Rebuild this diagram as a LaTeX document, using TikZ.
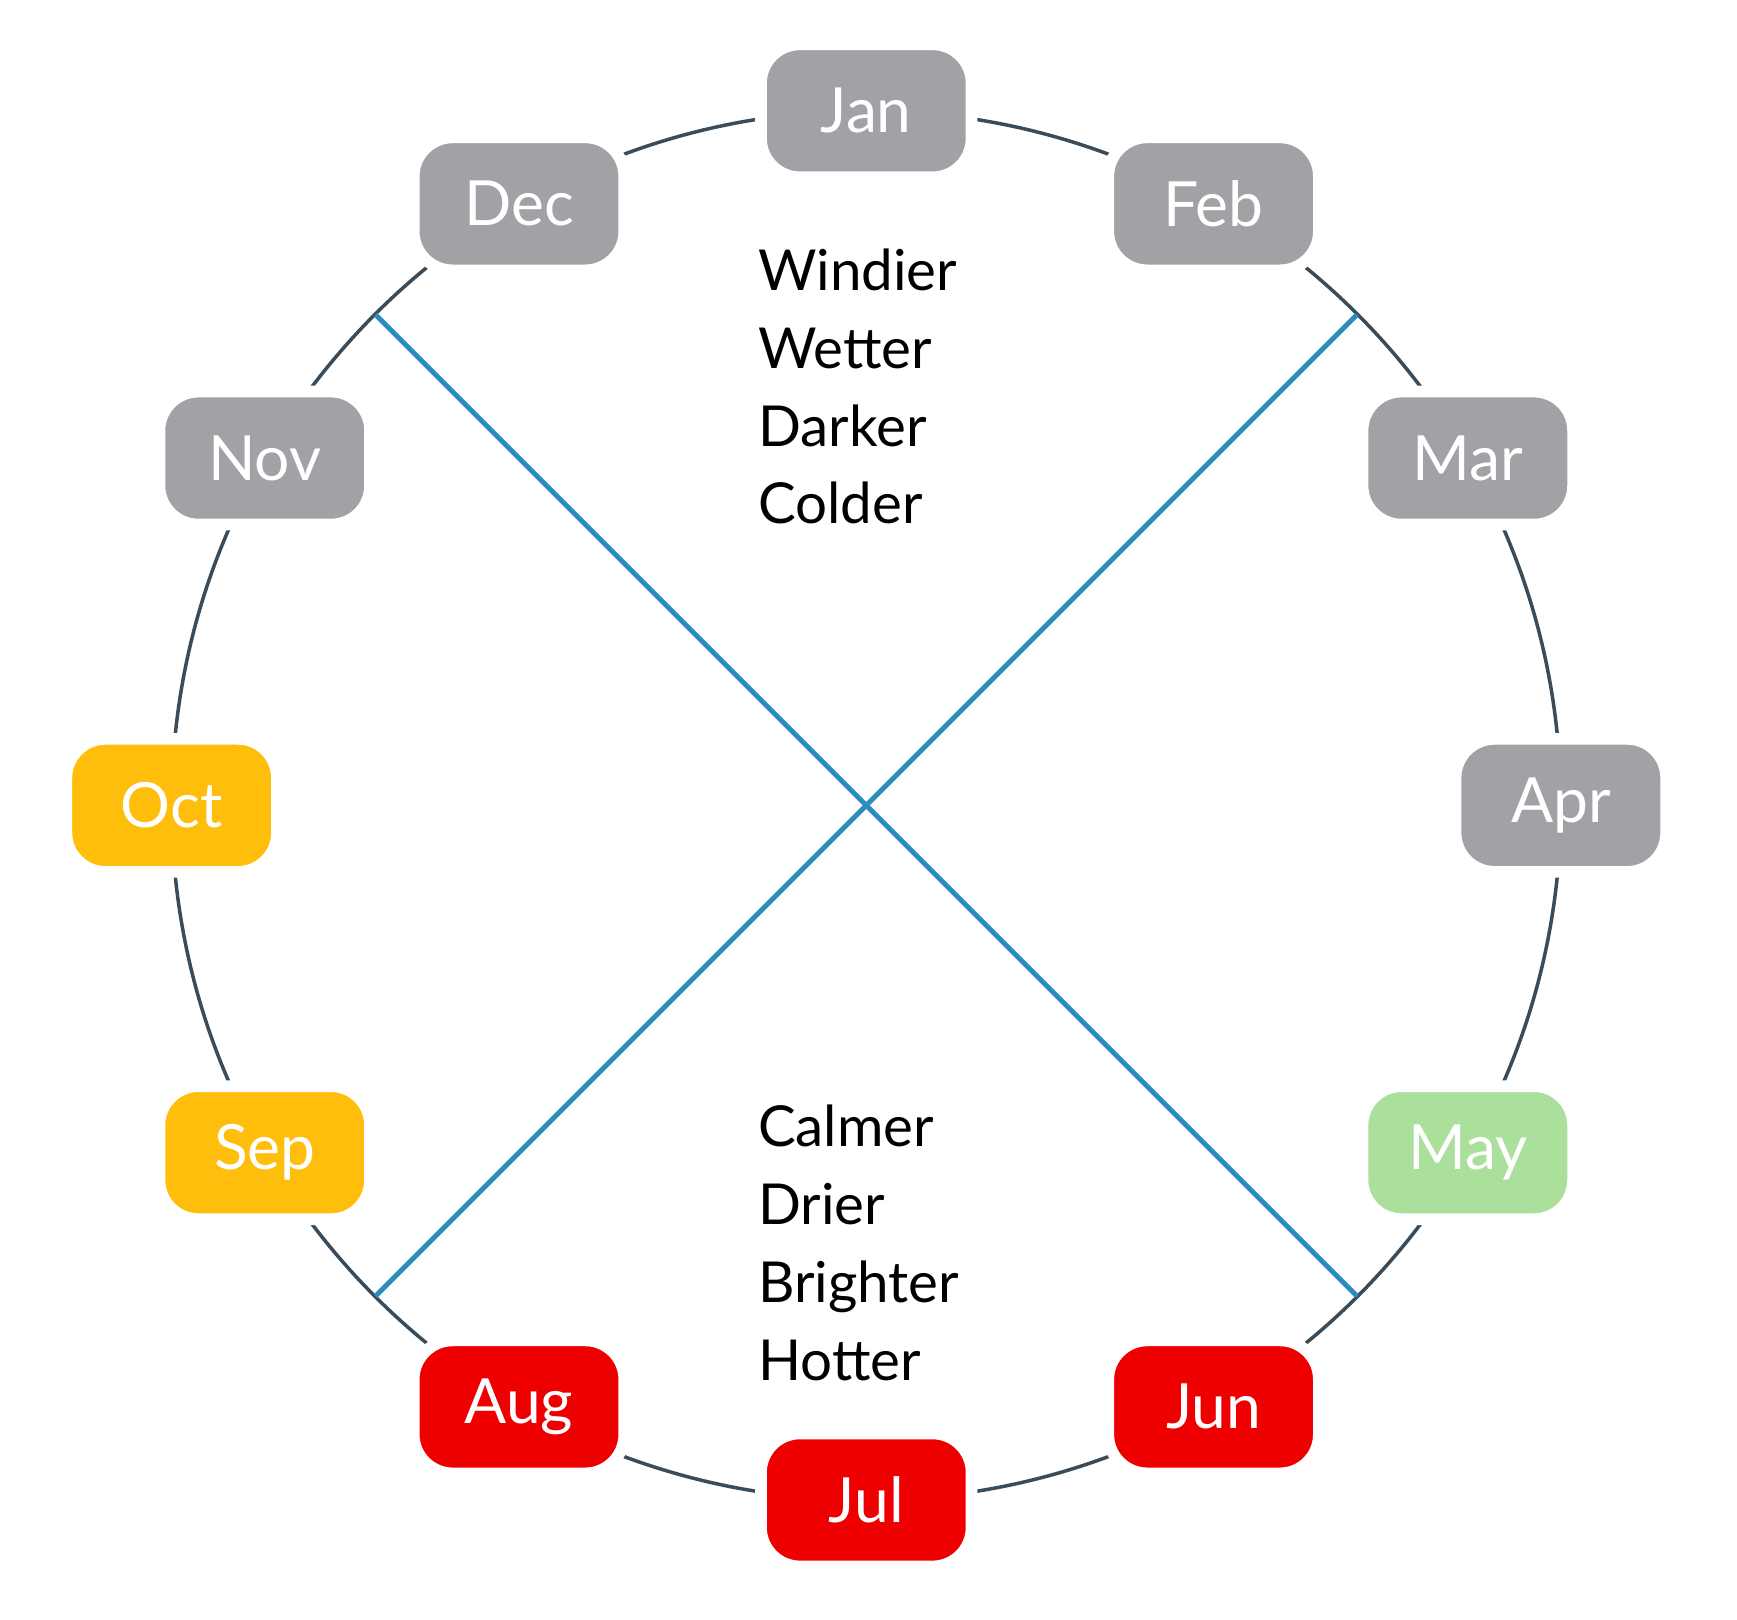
\documentclass[tikz,border=0pt]{standalone}
\usepackage{fontspec}
\setmainfont{Lato}
\definecolor{mgray}{HTML}{A2A1A5}
\definecolor{morange}{HTML}{FFBE0B}
\definecolor{mgreen}{HTML}{ABDF9C}
\definecolor{mred}{HTML}{EE0000}
\definecolor{ring}{HTML}{3A4C5A}
\definecolor{diag}{HTML}{2A8DBE}
\begin{document}
\begin{tikzpicture}[x=0.01cm,y=-0.01cm,
  month/.style={rounded corners=10pt,minimum width=1.9cm,minimum height=1.2cm,text=white,font=\fontsize{16}{16}\selectfont},
  info/.style={align=left,font=\fontsize{14.5}{20}\selectfont,anchor=north west}]
\useasboundingbox (0,0) rectangle (1568,1462);
\coordinate (c) at (782,727);
\draw[ring,line width=0.9pt] (c) circle (627);
\path (c) ++(-443,-443) coordinate (nw) (c) ++(443,-443) coordinate (ne) (c) ++(-443,443) coordinate (sw) (c) ++(443,443) coordinate (se);
\draw[diag,line width=1.3pt] (nw) -- (se);
\draw[diag,line width=1.3pt] (ne) -- (sw);
\foreach \n/\a/\col in {Jan/90/mgray,Feb/60/mgray,Mar/30/mgray,Apr/0/mgray,May/-30/mgreen,Jun/-60/mred,Jul/-90/mred,Aug/-120/mred,Sep/-150/morange,Oct/180/morange,Nov/150/mgray,Dec/120/mgray}
  \node[month,fill=\col,draw=white,line width=3pt] (\n) at ({782+627*cos(\a)}, {727-627*sin(\a)}) {\n};
\node[info] (cold) at (672,212) {Windier\\Wetter\\Darker\\Colder};
\node[info] (warm) at (672,985) {Calmer\\Drier\\Brighter\\Hotter};
\end{tikzpicture}
\end{document}
